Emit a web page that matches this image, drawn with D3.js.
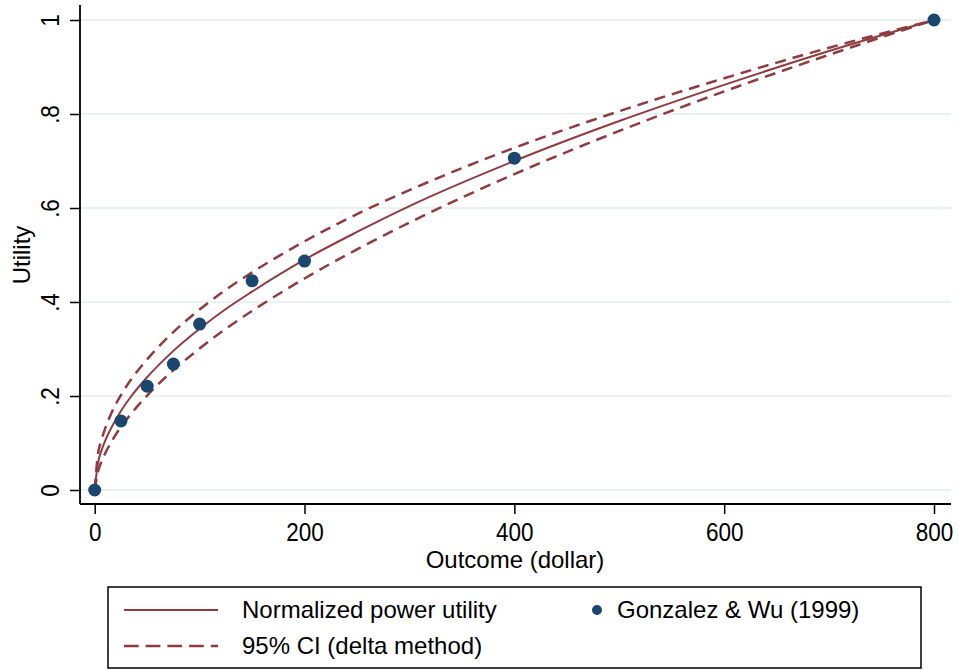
<!DOCTYPE html>
<html>
<head>
<meta charset="utf-8">
<script src="https://cdn.jsdelivr.net/npm/d3@7"></script>
<style>
  html, body { margin: 0; padding: 0; background: #fff; }
  svg { display: block; font-family: "Liberation Sans", Arial, sans-serif; }
</style>
</head>
<body>
<svg id="chart" width="958" height="670"></svg>
<script>
// ---- Data ----
const curveX   = [0, 3, 6, 10, 16, 25, 35, 50, 75, 100, 125, 150, 200, 250, 300, 400, 500, 600, 700, 800];
const fitted   = [0, 0.056, 0.081, 0.105, 0.133, 0.168, 0.200, 0.240, 0.296, 0.343, 0.385, 0.422, 0.490, 0.549, 0.604, 0.700, 0.785, 0.862, 0.934, 1];
const ciUpper  = [0, 0.075, 0.103, 0.131, 0.164, 0.202, 0.236, 0.278, 0.336, 0.384, 0.426, 0.463, 0.529, 0.587, 0.638, 0.728, 0.806, 0.876, 0.941, 1];
const ciLower  = [0, 0.038, 0.058, 0.078, 0.103, 0.134, 0.163, 0.201, 0.255, 0.301, 0.343, 0.381, 0.450, 0.512, 0.569, 0.672, 0.764, 0.848, 0.926, 1];

const obsX     = [0, 25, 50, 75, 100, 150, 200, 400, 800];
const obsY     = [0, 0.147, 0.221, 0.268, 0.353, 0.445, 0.487, 0.706, 1];

const xTicks   = [0, 200, 400, 600, 800];
const yTicks   = [0, 0.2, 0.4, 0.6, 0.8, 1];
const yTickLabels = ["0", ".2", ".4", ".6", ".8", "1"];

const xTitle = "Outcome (dollar)";
const yTitle = "Utility";
const legendLabels = ["Normalized power utility", "95% CI (delta method)", "Gonzalez & Wu (1999)"];

// ---- Styles ----
const lineColor = "#903b40";
const dotColor  = "#1a476f";
const gridColor = "#eaf1f3";

const svg = d3.select("#chart");

// plot frame
const frame = { left: 80, right: 951, top: 5, bottom: 504 };
const x = d3.scaleLinear().domain([0, 800]).range([94.7, 934]);
const y = d3.scaleLinear().domain([0, 1]).range([490, 20]);

// gridlines
svg.append("g").selectAll("line").data(yTicks).join("line")
  .attr("x1", frame.left).attr("x2", frame.right)
  .attr("y1", d => y(d)).attr("y2", d => y(d))
  .attr("stroke", gridColor).attr("stroke-width", 2);

// y axis
const yAxis = d3.axisLeft(y).tickValues(yTicks)
  .tickFormat((d, i) => yTickLabels[i]).tickSize(10).tickSizeOuter(0);
const gy = svg.append("g").attr("transform", `translate(${frame.left},0)`).call(yAxis);
gy.attr("font-size", null).attr("font-family", null);
gy.select(".domain").remove();
gy.selectAll(".tick line").attr("stroke", "#000").attr("stroke-width", 1.5);
gy.selectAll(".tick text")
  .attr("x", 0).attr("y", 0).attr("dy", 0)
  .attr("transform", "translate(-21,0) rotate(-90) scale(0.9,1)")
  .attr("text-anchor", "middle")
  .style("font-size", "25px").attr("fill", "#000");
svg.append("line").attr("x1", frame.left).attr("x2", frame.left)
  .attr("y1", frame.top).attr("y2", frame.bottom)
  .attr("stroke", "#000").attr("stroke-width", 1.8);

// x axis
const xAxis = d3.axisBottom(x).tickValues(xTicks).tickFormat(d3.format("d"))
  .tickSize(10).tickSizeOuter(0);
const gx = svg.append("g").attr("transform", `translate(0,${frame.bottom})`).call(xAxis);
gx.attr("font-size", null).attr("font-family", null);
gx.select(".domain").remove();
gx.selectAll(".tick line").attr("stroke", "#000").attr("stroke-width", 1.5);
gx.selectAll(".tick text").attr("x", 0).attr("y", 0).attr("dy", 0)
  .attr("transform", "translate(0,37) scale(0.9,1)")
  .style("font-size", "25px").attr("fill", "#000");
svg.append("line").attr("x1", frame.left).attr("x2", frame.right)
  .attr("y1", frame.bottom).attr("y2", frame.bottom)
  .attr("stroke", "#000").attr("stroke-width", 1.8);

// axis titles
svg.append("text").attr("x", 515).attr("y", 568).attr("text-anchor", "middle")
  .attr("font-size", 24).text(xTitle);
svg.append("text").attr("transform", "translate(30,255) rotate(-90)")
  .attr("text-anchor", "middle").attr("font-size", 24).text(yTitle);

// lines
const lineGen = arr => d3.line()
  .x((d, i) => x(curveX[i])).y((d, i) => y(arr[i]))
  .curve(d3.curveMonotoneX)(arr);

const plot = svg.append("g");
plot.append("path").attr("d", lineGen(ciUpper)).attr("fill", "none")
  .attr("stroke", lineColor).attr("stroke-width", 2.5).attr("stroke-dasharray", "11,7");
plot.append("path").attr("d", lineGen(ciLower)).attr("fill", "none")
  .attr("stroke", lineColor).attr("stroke-width", 2.5).attr("stroke-dasharray", "11,7");
plot.append("path").attr("d", lineGen(fitted)).attr("fill", "none")
  .attr("stroke", lineColor).attr("stroke-width", 2);

// points
plot.append("g").selectAll("circle").data(obsX).join("circle")
  .attr("cx", d => x(d)).attr("cy", (d, i) => y(obsY[i]))
  .attr("r", 6.5).attr("fill", dotColor);

// legend
const lg = svg.append("g");
lg.append("rect").attr("x", 108).attr("y", 587).attr("width", 813).attr("height", 81)
  .attr("fill", "#fff").attr("stroke", "#000").attr("stroke-width", 1.5);
lg.append("line").attr("x1", 124).attr("x2", 218).attr("y1", 610).attr("y2", 610)
  .attr("stroke", lineColor).attr("stroke-width", 2.2);
lg.append("line").attr("x1", 124).attr("x2", 218).attr("y1", 646).attr("y2", 646)
  .attr("stroke", lineColor).attr("stroke-width", 2.6).attr("stroke-dasharray", "14.7,7");
lg.append("circle").attr("cx", 597).attr("cy", 610).attr("r", 5).attr("fill", dotColor);
lg.append("text").attr("x", 242).attr("y", 618).attr("font-size", 24).text(legendLabels[0]);
lg.append("text").attr("x", 242).attr("y", 654).attr("font-size", 24).text(legendLabels[1]);
lg.append("text").attr("x", 617).attr("y", 618).attr("font-size", 24).text(legendLabels[2]);
</script>
</body>
</html>
